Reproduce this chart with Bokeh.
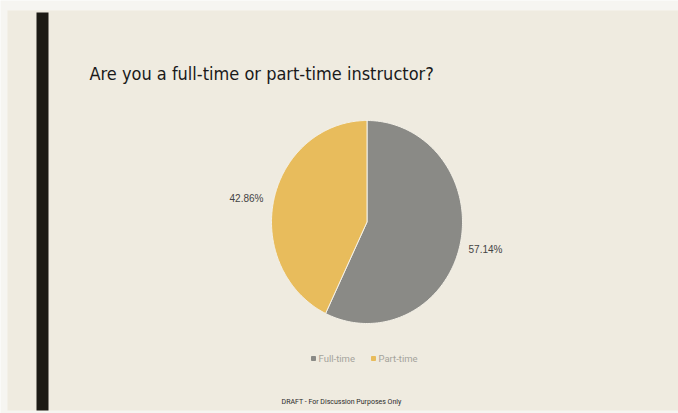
import numpy as np
from bokeh.plotting import figure
from bokeh.models import Range1d, ColumnDataSource
from bokeh.embed import file_html
from bokeh.resources import INLINE

# ---- data ----
categories = ["Full-time", "Part-time"]
shares = [57.14, 42.86]
slice_colors = ["#8a8a86", "#e8bc5c"]
title_text = "Are you a full-time or part-time instructor?"
footer_text = "DRAFT - For Discussion Purposes Only"

W, H = 678, 413
p = figure(width=W, height=H, output_backend="svg", toolbar_location=None,
           x_range=Range1d(0, W), y_range=Range1d(H, 0), min_border=0)
p.axis.visible = False
p.grid.visible = False
p.outline_line_color = None
p.background_fill_color = "#f6f5f1"
p.border_fill_color = "#f6f5f1"

# slide
p.quad(left=7, right=W, top=10, bottom=410, fill_color="#efebe0", line_color=None)
# left dark bar
p.quad(left=36, right=48, top=12, bottom=410, fill_color="#1c1a14", line_color=None)

# title
p.text(x=[89], y=[73], text=[title_text], text_font_size="18px",
       text_font={"value": "DejaVu Sans Condensed"}, text_color="#1a1a1a",
       text_baseline="middle", text_align="left")

# pie (ellipse, clockwise from 12 o'clock)
cx, cy, rx, ry = 366.5, 221.5, 95.5, 101.5
total = sum(shares)
start = 0.0
xs_all, ys_all = [], []
for s in shares:
    frac = s / total
    th = np.linspace(start, start + frac * 2 * np.pi, 200)
    xs = [cx] + list(cx + rx * np.sin(th)) + [cx]
    ys = [cy] + list(cy - ry * np.cos(th)) + [cy]
    xs_all.append(xs)
    ys_all.append(ys)
    start += frac * 2 * np.pi
src = ColumnDataSource(dict(xs=xs_all, ys=ys_all, color=slice_colors))
p.patches("xs", "ys", source=src, fill_color="color", line_color="#f4f1e8", line_width=1)

# percentage labels
lab_x = [485, 246]
lab_y = [249, 198]
p.text(x=lab_x, y=lab_y, text=[f"{v:.2f}%" for v in shares], text_font_size="10px",
       text_font={"value": "Liberation Sans"}, text_color="#444444",
       text_align="center", text_baseline="middle")

# legend
leg_x = [313, 373]
leg_y = [358, 358]
p.scatter(x=leg_x, y=leg_y, marker="square", size=4, color=slice_colors)
p.text(x=[x + 5 for x in leg_x], y=leg_y, text=categories, text_font_size="9.5px",
       text_font={"value": "Roboto"}, text_color="#a5a39c",
       text_align="left", text_baseline="middle")

# footer
p.text(x=[341], y=[401], text=[footer_text], text_font_size="7px",
       text_font={"value": "Roboto"}, text_color="#2a2a2a",
       text_align="center", text_baseline="middle")

open("out.html", "w").write(file_html(p, INLINE))
